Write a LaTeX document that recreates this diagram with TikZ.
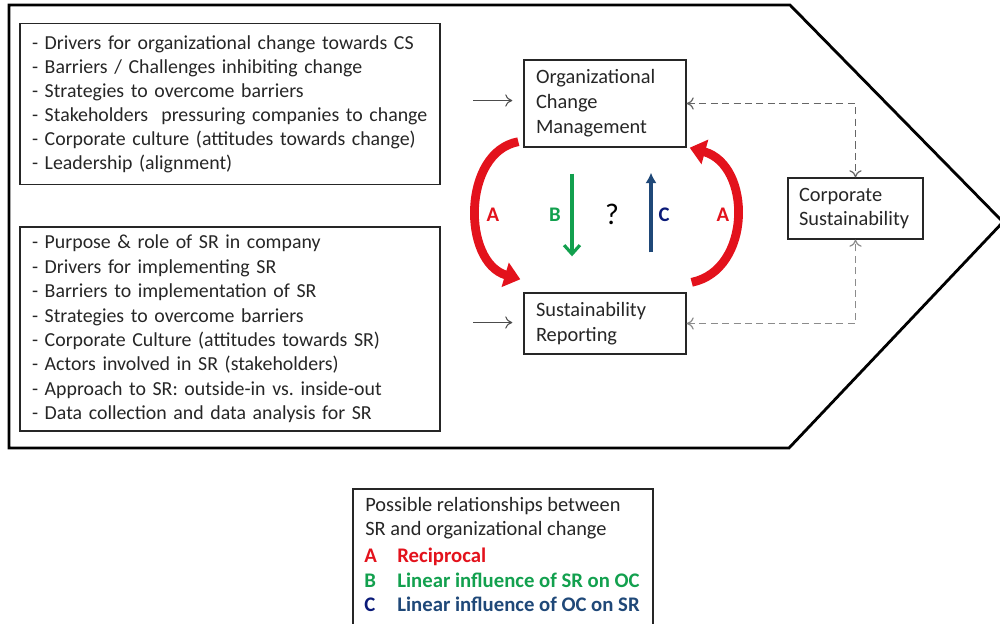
\documentclass[tikz,border=0pt]{standalone}
\usepackage{fontspec}
\setmainfont{Carlito}
\usetikzlibrary{arrows.meta,calc}
\definecolor{arcred}{HTML}{E3121C}
\definecolor{bgreen}{HTML}{12A04E}
\definecolor{cblue}{HTML}{1F4878}
\definecolor{cnavy}{HTML}{0A1A78}
\definecolor{txt}{HTML}{262626}
\tikzset{
  box/.style={draw=black!85, line width=0.8pt, align=left, text=txt,
    inner xsep=0.24cm, inner ysep=0pt,
    font=\fontsize{11.3pt}{13.66pt}\selectfont},
  feed/.style={draw=black!70, line width=0.6pt, -{To[length=4pt,width=7pt]}},
  link/.style={draw=black!60, line width=0.7pt, dash pattern=on 4pt off 2.5pt,
    {To[length=4pt,width=7pt]}-{To[length=4pt,width=7pt]}},
  recip/.style={draw=arcred, line width=5pt,
    -{Triangle[length=9pt,width=14pt]}},
  letter/.style={font=\fontsize{11.8pt}{13pt}\selectfont\bfseries},
}
\begin{document}
\frenchspacing
\begin{tikzpicture}[x=0.02cm, y=-0.02cm]
\useasboundingbox (0,0) rectangle (1000,623);

% outer arrow shape
\draw[line width=1.6pt, line join=miter] (9,5) -- (790,5) -- (1003,222)
  -- (789,448) -- (9,448) -- cycle;

% topic lists
\node[box, minimum width=8.4cm, minimum height=3.22cm, text width=7.92cm]
  (oclist) at (230,104)
  {- Drivers for organizational change towards CS\\
   - Barriers / Challenges inhibiting change\\
   - Strategies to overcome barriers\\
   - Stakeholders \ pressuring companies to change\\
   - Corporate culture (attitudes towards change)\\
   - Leadership (alignment)};
\node[box, minimum width=8.4cm, minimum height=4.08cm, text width=7.92cm,
  font=\fontsize{11.3pt}{13.9pt}\selectfont]
  (srlist) at (230,329)
  {- Purpose \& role of SR in company\\
   - Drivers for implementing SR\\
   - Barriers to implementation of SR\\
   - Strategies to overcome barriers\\
   - Corporate Culture (attitudes towards SR)\\
   - Actors involved in SR (stakeholders)\\
   - Approach to SR: outside-in vs. inside-out\\
   - Data collection and data analysis for SR};

% central concepts
\node[box, minimum width=3.24cm, minimum height=1.74cm, text width=2.76cm,
  font=\fontsize{11.6pt}{14.2pt}\selectfont]
  (ocm) at (605,103.5) {Organizational\\Change\\Management};
\node[box, minimum width=3.24cm, minimum height=1.22cm, text width=2.76cm,
  font=\fontsize{11.6pt}{14.2pt}\selectfont]
  (sr) at (605,323.5) {Sustainability\\Reporting};
\node[box, minimum width=2.7cm, minimum height=1.22cm, text width=2.26cm,
  inner xsep=0.22cm, font=\fontsize{11.6pt}{14.2pt}\selectfont]
  (cs) at (855.5,208.5) {Corporate\\Sustainability};

% inputs from the lists
\draw[feed, shorten >=0.22cm] ($(ocm.west)+(-50,-3)$) -- ($(ocm.west)+(0,-3)$);
\draw[feed, shorten >=0.22cm] ($(sr.west)+(-50,-1)$) -- ($(sr.west)+(0,-1)$);

% links to corporate sustainability
\draw[link] (ocm.east) -| (cs.north);
\draw[link, draw=black!45] (sr.east) -| (cs.south);

% reciprocal arcs
\draw[recip] ($(ocm.south west)+(-5,-6)$) .. controls (462,152) and (462,262)
  .. ($(sr.north west)+(-3,-13)$);
\draw[recip] ($(sr.north east)+(5,-10)$) .. controls (752,270) and (752,165)
  .. ($(ocm.south east)+(3,0)$);

% linear influences
\draw[draw=bgreen, line width=1.8pt, -{Straight Barb[length=5pt,width=9pt]}]
  ($(ocm.south)+(-33,26)$) -- ($(sr.north)+(-33,-36)$);
\draw[draw=cblue, line width=1.8pt, -{Latex[length=6pt,width=6.5pt]}]
  ($(sr.north)+(46,-40)$) -- ($(ocm.south)+(46,25)$);

\node[letter, text=arcred] (al) at (493,215) {A};
\node[letter, text=bgreen] (bl) at (555,215) {B};
\node[font=\fontsize{17pt}{18pt}\selectfont] (qm) at (612,214) {?};
\node[letter, text=cnavy] (cl) at (664,215) {C};
\node[letter, text=arcred] (ar) at (723,215) {A};

% legend
\draw[draw=black!85, line width=0.8pt] (353,489) rectangle (653,640);
\node[anchor=north west, inner sep=0pt, align=left, text=txt,
  font=\fontsize{11.6pt}{13.9pt}\selectfont] (legtitle) at (365,497)
  {Possible relationships between\\SR and organizational change};
\node[letter, anchor=base west, inner sep=0pt, text=arcred] (lega) at (364,562) {A};
\node[letter, anchor=base west, inner sep=0pt, text=bgreen] (legb) at (364,587) {B};
\node[letter, anchor=base west, inner sep=0pt, text=cnavy] (legc) at (364,611) {C};
\node[letter, anchor=base west, inner sep=0pt, text=arcred] at (397,562) {Reciprocal};
\node[letter, anchor=base west, inner sep=0pt, text=bgreen] at (397,587) {Linear influence of SR on OC};
\node[letter, anchor=base west, inner sep=0pt, text=cblue] at (397,611) {Linear influence of OC on SR};
\end{tikzpicture}
\end{document}
